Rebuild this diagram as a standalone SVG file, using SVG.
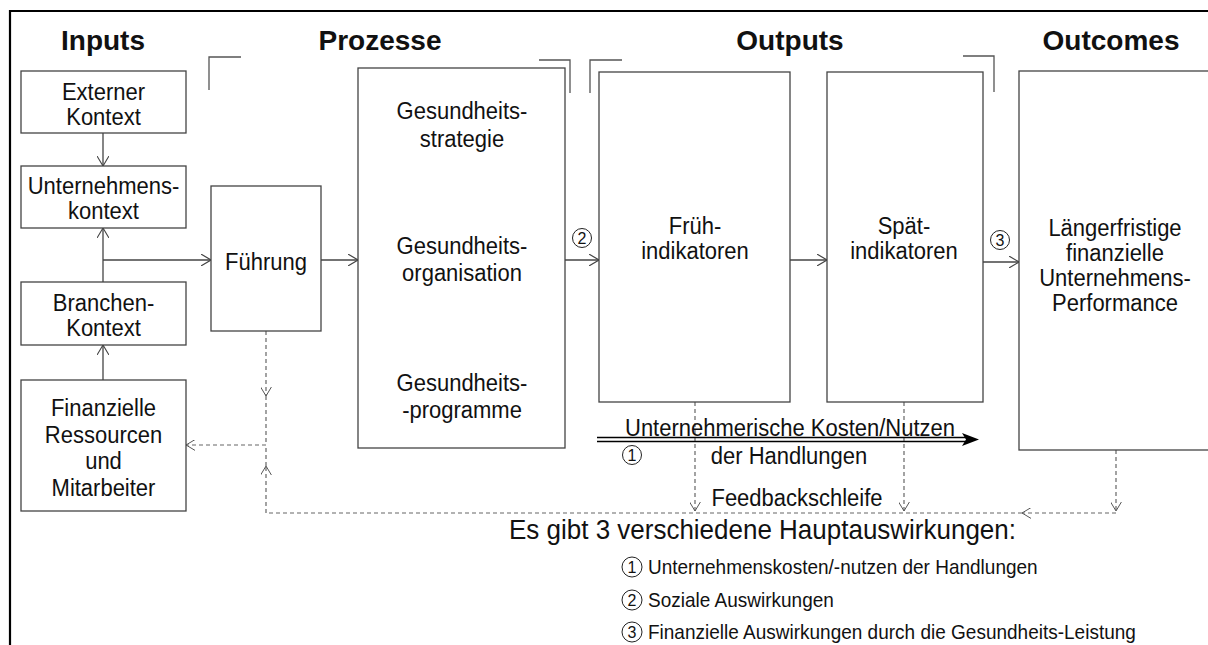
<svg xmlns="http://www.w3.org/2000/svg" width="1208" height="645" viewBox="0 0 1208 645">
<style>
.box{fill:#fff;stroke:#444;stroke-width:1.3}
.t{font-family:"Liberation Sans",Arial,sans-serif;font-size:22px;fill:#111;text-anchor:middle;transform-box:fill-box;transform-origin:center;transform:scaleY(1.1)}
.h{font-family:"Liberation Sans",Arial,sans-serif;font-size:28px;font-weight:bold;fill:#111;text-anchor:middle}
.s{font-family:"Liberation Sans",Arial,sans-serif;font-size:19px;fill:#111;transform-box:fill-box;transform-origin:center;transform:scaleY(1.1)}
.big{font-family:"Liberation Sans",Arial,sans-serif;font-size:26px;fill:#111;transform-box:fill-box;transform-origin:center;transform:scaleY(1.05)}
.d{font-family:"Liberation Sans",Arial,sans-serif;font-size:16px;fill:#111;text-anchor:middle}
.ln{stroke:#444;stroke-width:1.3;fill:none}
.ds{stroke:#666;stroke-width:1.2;stroke-dasharray:4,3;fill:none}
.br{stroke:#555;stroke-width:1.3;fill:none}
.cn{fill:none;stroke:#222;stroke-width:1}
</style>
<defs>
<marker id="a" viewBox="0 0 10 12" refX="10" refY="6" markerWidth="10" markerHeight="12" orient="auto" markerUnits="userSpaceOnUse"><path d="M0,0 L10,6 L0,12" fill="none" stroke="#444" stroke-width="1.1"/></marker>
<marker id="ad" viewBox="0 0 10 12" refX="10" refY="6" markerWidth="9" markerHeight="11" orient="auto" markerUnits="userSpaceOnUse"><path d="M0,0 L10,6 L0,12" fill="none" stroke="#555" stroke-width="1.1"/></marker>
</defs>
<rect width="1208" height="645" fill="#fff"/>
<path d="M10,645 L10,11 L1208,11" fill="none" stroke="#000" stroke-width="2.2"/>
<g id="headings">
<text class="h" x="103" y="50">Inputs</text>
<text class="h" x="380" y="50">Prozesse</text>
<text class="h" x="790" y="50">Outputs</text>
<text class="h" x="1111" y="50">Outcomes</text>
</g>
<g id="brackets">
<path class="br" d="M209,90 L209,57 L241,57"/>
<path class="br" d="M539,60 L570,60 L570,93"/>
<path class="br" d="M590,93 L590,60 L622,60"/>
<path class="br" d="M963,56 L994,56 L994,92"/>
</g>
<g id="connectors">
<line class="ln" x1="103" y1="133" x2="103" y2="166" marker-end="url(#a)"/>
<line class="ln" x1="103" y1="282" x2="103" y2="228" marker-end="url(#a)"/>
<line class="ln" x1="103" y1="380" x2="103" y2="345" marker-end="url(#a)"/>
<line class="ln" x1="103" y1="260" x2="211" y2="260" marker-end="url(#a)"/>
<line class="ln" x1="321" y1="260" x2="358" y2="260" marker-end="url(#a)"/>
<line class="ln" x1="565" y1="260" x2="599" y2="260" marker-end="url(#a)"/>
<line class="ln" x1="790" y1="260" x2="827" y2="260" marker-end="url(#a)"/>
<line class="ln" x1="983" y1="262" x2="1019" y2="262" marker-end="url(#a)"/>
<line class="ds" x1="266" y1="331" x2="266" y2="396" marker-end="url(#ad)"/>
<line class="ds" x1="266" y1="396" x2="266" y2="445"/>
<line class="ds" x1="266" y1="445" x2="186" y2="445" marker-end="url(#ad)"/>
<line class="ds" x1="266" y1="513" x2="266" y2="466" marker-end="url(#ad)"/>
<line class="ds" x1="266" y1="466" x2="266" y2="445"/>
<line class="ds" x1="695" y1="402" x2="695" y2="511" marker-end="url(#ad)"/>
<line class="ds" x1="904" y1="402" x2="904" y2="511" marker-end="url(#ad)"/>
<line class="ds" x1="1116" y1="450" x2="1116" y2="511" marker-end="url(#ad)"/>
<line class="ds" x1="1116" y1="513" x2="1022" y2="513" marker-end="url(#ad)"/>
<line class="ds" x1="1022" y1="513" x2="266" y2="513"/>
<path d="M597,437.5 L966,437.5 M597,441.5 L966,441.5" stroke="#000" stroke-width="1.4" fill="none"/>
<path d="M962,433 L979,439.5 L962,446 L966,439.5 Z" fill="#000"/>
</g>
<g id="externer">
<rect class="box" x="21" y="71" width="165" height="62"/>
<text class="t" x="103.5" y="99">Externer</text>
<text class="t" x="103.5" y="124">Kontext</text>
</g>
<g id="unternehmenskontext">
<rect class="box" x="21" y="166" width="165" height="62"/>
<text class="t" x="103.5" y="193">Unternehmens-</text>
<text class="t" x="103.5" y="218">kontext</text>
</g>
<g id="branchen">
<rect class="box" x="21" y="282" width="165" height="63"/>
<text class="t" x="103.5" y="310">Branchen-</text>
<text class="t" x="103.5" y="335">Kontext</text>
</g>
<g id="finanzielle">
<rect class="box" x="21" y="380" width="165" height="131"/>
<text class="t" x="103.5" y="415">Finanzielle</text>
<text class="t" x="103.5" y="442">Ressourcen</text>
<text class="t" x="103.5" y="468">und</text>
<text class="t" x="103.5" y="495">Mitarbeiter</text>
</g>
<g id="fuehrung">
<rect class="box" x="211" y="186" width="110" height="145"/>
<text class="t" x="266" y="269">Führung</text>
</g>
<g id="prozesse">
<rect class="box" x="358" y="68" width="207" height="380"/>
<text class="t" x="462" y="118">Gesundheits-</text>
<text class="t" x="462" y="146">strategie</text>
<text class="t" x="462" y="253">Gesundheits-</text>
<text class="t" x="462" y="280">organisation</text>
<text class="t" x="462" y="390">Gesundheits-</text>
<text class="t" x="462" y="417">-programme</text>
</g>
<g id="frueh">
<rect class="box" x="599" y="72" width="191" height="330"/>
<text class="t" x="695" y="233">Früh-</text>
<text class="t" x="695" y="258">indikatoren</text>
</g>
<g id="spaet">
<rect class="box" x="827" y="72" width="156" height="330"/>
<text class="t" x="904" y="233">Spät-</text>
<text class="t" x="904" y="258">indikatoren</text>
</g>
<g id="outcome">
<rect class="box" x="1019" y="71" width="200" height="379"/>
<text class="t" x="1115" y="235">Längerfristige</text>
<text class="t" x="1115" y="260">finanzielle</text>
<text class="t" x="1115" y="285">Unternehmens-</text>
<text class="t" x="1115" y="310">Performance</text>
</g>
<g id="labels">
<circle class="cn" cx="582" cy="238" r="9.5"/><text class="d" x="582" y="244">2</text>
<circle class="cn" cx="1000" cy="240" r="9.5"/><text class="d" x="1000" y="246">3</text>
<circle class="cn" cx="632" cy="455" r="9.5"/><text class="d" x="632" y="461">1</text>
<text class="t" x="790" y="435">Unternehmerische Kosten/Nutzen</text>
<text class="t" x="789" y="463">der Handlungen</text>
<text class="t" x="797" y="505">Feedbackschleife</text>
</g>
<g id="legend">
<text class="big" x="509" y="539">Es gibt 3 verschiedene Hauptauswirkungen:</text>
<circle class="cn" cx="632" cy="567" r="10"/><text class="d" x="632" y="573">1</text>
<text class="s" x="648" y="573">Unternehmenskosten/-nutzen der Handlungen</text>
<circle class="cn" cx="632" cy="600" r="10"/><text class="d" x="632" y="606">2</text>
<text class="s" x="648" y="606">Soziale Auswirkungen</text>
<circle class="cn" cx="632" cy="632" r="10"/><text class="d" x="632" y="638">3</text>
<text class="s" x="648" y="638">Finanzielle Auswirkungen durch die Gesundheits-Leistung</text>
</g>
</svg>
